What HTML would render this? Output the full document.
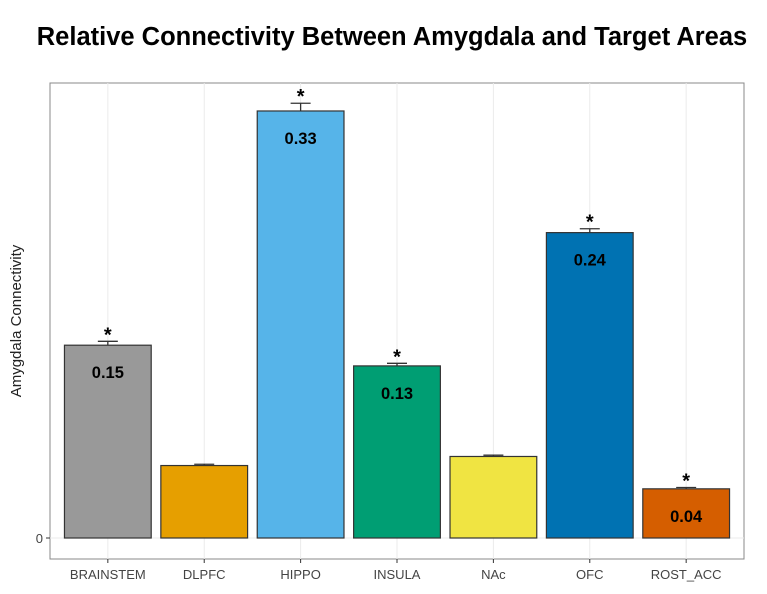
<!DOCTYPE html>
<html><head><meta charset="utf-8"><style>
body{margin:0;background:#fff;font-family:"Liberation Sans",sans-serif}
</style></head><body>
<svg id="chart" width="767" height="589" xmlns="http://www.w3.org/2000/svg">
<text x="392" y="45" text-anchor="middle" font-size="25.5" font-weight="bold">Relative Connectivity Between Amygdala and Target Areas</text>
<rect x="50" y="83" width="694" height="476" fill="#fff" stroke="#888" stroke-width="1"/>
<text transform="translate(21,321) rotate(-90)" text-anchor="middle" font-size="15" fill="#222">Amygdala Connectivity</text>
<g id="grid"></g><g id="bars"></g><g id="xaxis"></g>
</svg>
<script>
const categories=["BRAINSTEM","DLPFC","HIPPO","INSULA","NAc","OFC","ROST_ACC"];
const values=[0.149,0.056,0.330,0.133,0.063,0.236,0.038];
const errors=[0.003,0.001,0.006,0.002,0.001,0.003,0.001];
const labels=["0.15","","0.33","0.13","","0.24","0.04"];
const sig=[true,false,true,true,false,true,true];
const colors=["#999999","#E69F00","#56B4E9","#009E73","#F0E442","#0072B2","#D55E00"];
const left=50,width=694,y0=538,ppu=1294,step=width/7.2;
const ns="http://www.w3.org/2000/svg";
function xc(i){return left+step*(0.6+i);}
function y(v){return y0-v*ppu;}
function mk(t,a,p){const e=document.createElementNS(ns,t);for(const k in a)e.setAttribute(k,a[k]);p.appendChild(e);return e;}
const g=document.getElementById('grid'),b=document.getElementById('bars'),ax=document.getElementById('xaxis');
const gl=mk('line',{x1:left,x2:left+width,y1:y(0),y2:y(0),stroke:'#ebebeb'},g);


const yt=mk('line',{x1:46,x2:50,y1:y(0),y2:y(0),stroke:'#333'},ax);


const yl=mk('text',{x:43,y:y(0)+5,'text-anchor':'end','font-size':13,fill:'#444'},ax);yl.textContent='0';


const bw=step*0.9;
categories.forEach((c,i)=>{
 const x=xc(i);
 const vg=mk('line',{x1:x,x2:x,y1:83,y2:559,stroke:'#ebebeb'},g);
 
 
 const r=mk('rect',{x:x-bw/2,y:y(values[i]),width:bw,height:values[i]*ppu,fill:colors[i],stroke:'#333','stroke-width':1.2},b);
 
 
 const et=y(values[i]+errors[i]);
 const e=mk('path',{d:`M${x-10},${et}H${x+10}M${x},${et}V${y(values[i])}`,stroke:'#333','stroke-width':1.3,fill:'none'},b);
 
 
 if(sig[i]){const s=mk('text',{x:x,y:et,'text-anchor':'middle','font-size':20,'font-weight':'bold'},b);s.textContent='*';
 
 }
 if(labels[i]){const l=mk('text',{x:x,y:y(values[i])+33,'text-anchor':'middle','font-size':16.5,'font-weight':'bold'},b);l.textContent=labels[i];
 
 }
 const t=mk('line',{x1:x,x2:x,y1:559,y2:563,stroke:'#333'},ax);
 
 
 const tl=mk('text',{x:x,y:579,'text-anchor':'middle','font-size':13,fill:'#444'},ax);tl.textContent=c;
 
 
});
</script>
</body></html>
